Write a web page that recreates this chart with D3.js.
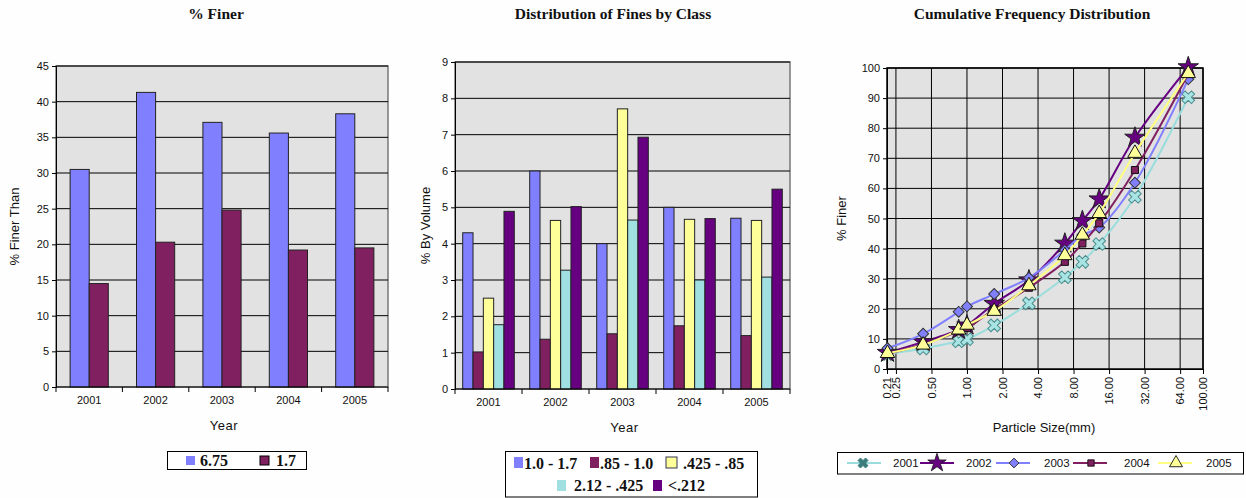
<!DOCTYPE html>
<html><head><meta charset="utf-8">
<script src="https://cdn.jsdelivr.net/npm/d3@7"></script>
<style>
html,body{margin:0;padding:0;background:#fefefe;}
svg{display:block;}
text{font-family:"Liberation Sans",Arial,sans-serif;fill:#111;}
.title{font-family:"Liberation Serif","Times New Roman",serif;font-weight:bold;font-size:15.5px;}
.leg{font-family:"Liberation Serif","Times New Roman",serif;font-weight:bold;font-size:16px;}
.tick text{font-size:11px;}
</style></head>
<body>
<svg id="c" width="1246" height="498"></svg>
<script>
// ---------- data ----------
const years = ["2001","2002","2003","2004","2005"];

const finerSeries = ["6.75","1.7"];
const finer675 = [30.5, 41.3, 37.1, 35.6, 38.3];
const finer17  = [14.5, 20.3, 24.8, 19.2, 19.5];
const finerTicks = [0,5,10,15,20,25,30,35,40,45];

const classNames = ["1.0 - 1.7", ".85 - 1.0", ".425 - .85", "2.12 - .425", "<.212"];
const cls_1_17      = [4.3, 6.0, 4.0, 5.0, 4.7];
const cls_085_1     = [1.02, 1.37, 1.52, 1.74, 1.47];
const cls_0425_085  = [2.5, 4.64, 7.71, 4.67, 4.64];
const cls_212_0425  = [1.77, 3.27, 4.65, 3.0, 3.08];
const cls_lt212     = [4.89, 5.02, 6.93, 4.69, 5.5];
const volumeTicks = [0,1,2,3,4,5,6,7,8,9];

const particleSizes = [0.212, 0.425, 0.85, 1.0, 1.7, 3.35, 6.75, 9.5, 13.2, 26.5, 75];
const cum2001 = [5.0, 6.8, 9.2, 9.9, 14.5, 21.8, 30.5, 35.6, 41.5, 57.2, 90.3];
const cum2002 = [5.4, 9.0, 13.0, 14.5, 21.7, 29.5, 41.7, 49.2, 56.4, 76.9, 100.3];
const cum2003 = [6.9, 11.7, 19.0, 20.8, 24.9, 30.3, 39.5, 44.5, 47.0, 61.9, 96.3];
const cum2004 = [5.0, 8.2, 12.5, 13.6, 19.8, 27.0, 35.6, 41.7, 48.4, 66.1, 98.0];
const cum2005 = [5.2, 8.0, 13.0, 14.6, 19.2, 27.7, 37.7, 44.5, 51.7, 71.7, 98.2];
const sizeTicks = [0.21, 0.25, 0.5, 1, 2, 4, 8, 16, 32, 64, 100];
const pctTicks = [0,10,20,30,40,50,60,70,80,90,100];

// ---------- styles ----------
const plotBg = "#e2e2e2";
const finerColors = ["#8080ff", "#802060"];
const classColors = ["#8080ff", "#802060", "#ffff99", "#a0e0e0", "#660080"];

const svg = d3.select("#c");

function barChart(o) {
  const g = svg.append("g");
  const x0 = d3.scaleBand().domain(years).range([o.x0, o.x1]).padding(0);
  const y = d3.scaleLinear().domain([0, o.ymax]).range([o.y1, o.y0]);
  const bw = x0.bandwidth();
  const gw = bw * o.groupFrac;
  const x1 = d3.scaleBand().domain(o.names).range([(bw - gw) / 2, (bw + gw) / 2]).padding(0);

  g.append("rect").attr("x", o.x0).attr("y", o.y0).attr("width", o.x1 - o.x0).attr("height", o.y1 - o.y0)
    .attr("fill", plotBg).attr("stroke", "#777").attr("stroke-width", 1.5);
  g.append("g").selectAll("line").data(o.ticks.filter(t => t > 0)).join("line")
    .attr("x1", o.x0).attr("x2", o.x1).attr("y1", d => y(d)).attr("y2", d => y(d))
    .attr("stroke", "#000").attr("stroke-width", 1);

  o.series.forEach((vals, si) => {
    g.append("g").selectAll("rect").data(vals).join("rect")
      .attr("x", (d, i) => x0(years[i]) + x1(o.names[si]))
      .attr("y", d => y(d))
      .attr("width", x1.bandwidth())
      .attr("height", d => y(0) - y(d))
      .attr("fill", o.colors[si]).attr("stroke", "#222").attr("stroke-width", 1);
  });

  const ya = g.append("g").attr("transform", `translate(${o.x0},0)`)
    .call(d3.axisLeft(y).tickValues(o.ticks).tickSize(4).tickPadding(3).tickFormat(d3.format("d")));
  ya.select(".domain").attr("stroke", "#000");
  ya.selectAll(".tick line").attr("stroke", "#000");
  const xa = g.append("g");
  xa.append("line").attr("x1", o.x0).attr("x2", o.x1).attr("y1", o.y1).attr("y2", o.y1).attr("stroke", "#000");
  const bounds = years.map(d => x0(d)).concat([o.x1]);
  xa.selectAll("line.t").data(bounds).join("line").attr("class", "t")
    .attr("x1", d => d).attr("x2", d => d).attr("y1", o.y1).attr("y2", o.y1 + 5).attr("stroke", "#000");
  xa.selectAll("text").data(years).join("text")
    .attr("x", d => x0(d) + bw / 2).attr("y", o.y1 + 17).attr("text-anchor", "middle")
    .style("font-size", "11px").text(d => d);

  g.append("text").attr("class", "title").attr("x", o.titleX).attr("y", 19).attr("text-anchor", "middle").text(o.title);
  g.append("text").attr("x", (o.x0 + o.x1) / 2 + 2).attr("y", o.y1 + 43).attr("text-anchor", "middle")
    .style("font-size", "13px").style("letter-spacing", "0.5px").text("Year");
  g.append("text").attr("transform", `translate(${o.ylabX},${(o.y0 + o.y1) / 2}) rotate(-90)`)
    .attr("text-anchor", "middle").style("font-size", "13px").text(o.ylabel);
  return g;
}

// ---- chart 1 ----
barChart({x0: 56, x1: 388, y0: 66, y1: 387, ymax: 45, ticks: finerTicks, names: finerSeries,
  series: [finer675, finer17], colors: finerColors, groupFrac: 0.575,
  title: "% Finer", titleX: 216, ylabel: "% Finer Than", ylabX: 19});

{
  const lg = svg.append("g");
  lg.append("rect").attr("x", 167.5).attr("y", 451.5).attr("width", 139).attr("height", 18)
    .attr("fill", "#fff").attr("stroke", "#000");
  const items = [{n: finerSeries[0], c: finerColors[0], x: 186, tx: 200}, {n: finerSeries[1], c: finerColors[1], x: 260, tx: 276}];
  items.forEach(it => {
    lg.append("rect").attr("x", it.x).attr("y", 456).attr("width", 9).attr("height", 9).attr("fill", it.c)
      .attr("stroke", it.c === finerColors[1] ? "#000" : "none");
    lg.append("text").attr("class", "leg").attr("x", it.tx).attr("y", 466).text(it.n);
  });
}

// ---- chart 2 ----
barChart({x0: 455, x1: 790, y0: 62, y1: 389, ymax: 9, ticks: volumeTicks, names: classNames,
  series: [cls_1_17, cls_085_1, cls_0425_085, cls_212_0425, cls_lt212], colors: classColors, groupFrac: 0.77,
  title: "Distribution of Fines by Class", titleX: 613, ylabel: "% By Volume", ylabX: 430});

{
  const lg = svg.append("g");
  lg.append("rect").attr("x", 505.5).attr("y", 451.5).attr("width", 252).attr("height", 45.5)
    .attr("fill", "#fff").attr("stroke", "#000");
  const items = [
    {i: 0, x: 514, y: 457, tx: 524, ty: 469},
    {i: 1, x: 590, y: 457, tx: 600, ty: 469},
    {i: 2, x: 666, y: 457, tx: 683, ty: 469},
    {i: 3, x: 557, y: 480, tx: 574, ty: 491},
    {i: 4, x: 653, y: 480, tx: 668, ty: 491}];
  items.forEach(it => {
    lg.append("rect").attr("x", it.x).attr("y", it.y).attr("width", it.i === 2 ? 11 : 9).attr("height", 11)
      .attr("fill", classColors[it.i]).attr("stroke", it.i === 2 ? "#335" : "none");
    lg.append("text").attr("class", "leg").attr("x", it.tx).attr("y", it.ty).text(classNames[it.i]);
  });
}

// ---- chart 3 ----
{
  const g = svg.append("g");
  const X0 = 887, X1 = 1203, Y0 = 68, Y1 = 369;
  const x = d3.scaleLog().domain([0.21, 100]).range([X0, X1]);
  const y = d3.scaleLinear().domain([0, 100]).range([Y1, Y0]);
  g.append("rect").attr("x", X0).attr("y", Y0).attr("width", X1 - X0).attr("height", Y1 - Y0)
    .attr("fill", plotBg).attr("stroke", "#000").attr("stroke-width", 1.5);
  g.append("g").selectAll("line").data(pctTicks.filter(t => t > 0)).join("line")
    .attr("x1", X0).attr("x2", X1).attr("y1", d => y(d)).attr("y2", d => y(d)).attr("stroke", "#000");
  g.append("g").selectAll("line").data(sizeTicks.slice(1)).join("line")
    .attr("x1", d => x(d)).attr("x2", d => x(d)).attr("y1", Y0).attr("y2", Y1).attr("stroke", "#000");

  const ya = g.append("g").attr("transform", `translate(${X0},0)`)
    .call(d3.axisLeft(y).tickValues(pctTicks).tickSize(4).tickPadding(3).tickFormat(d3.format("d")));
  ya.selectAll(".tick line").attr("stroke", "#000");
  ya.select(".domain").attr("stroke", "#000");
  const xa = g.append("g").attr("transform", `translate(0,${Y1})`)
    .call(d3.axisBottom(x).tickValues(sizeTicks).tickSize(5).tickFormat(d => d.toFixed(2)));
  xa.select(".domain").attr("stroke", "#000");
  xa.selectAll(".tick line").attr("stroke", "#000");
  xa.selectAll(".tick text").attr("transform", "rotate(-90)").attr("text-anchor", "end")
    .attr("x", -8).attr("y", 0).attr("dy", "0.35em");

  const series = [
    {name: "2001", v: cum2001, line: "#99dddd", fill: "#a8e4e4", stroke: "#4b8c8c", sym: "x"},
    {name: "2002", v: cum2002, line: "#660080", fill: "#660080", stroke: "#222", sym: "star"},
    {name: "2003", v: cum2003, line: "#8080ff", fill: "#8080ff", stroke: "#333", sym: "diamond"},
    {name: "2004", v: cum2004, line: "#802060", fill: "#802060", stroke: "#111", sym: "square"},
    {name: "2005", v: cum2005, line: "#ffff80", fill: "#ffff99", stroke: "#111", sym: "triangle"}];
  function symPath(s) {
    if (s === "x") return {p: d3.symbol(d3.symbolCross, 100)(), r: 45};
    if (s === "star") return {p: d3.symbol(d3.symbolStar, 130)(), r: 0};
    if (s === "diamond") return {p: d3.symbol(d3.symbolSquare, 60)(), r: 45};
    if (s === "square") return {p: d3.symbol(d3.symbolSquare, 50)(), r: 0};
    return {p: d3.symbol(d3.symbolTriangle, 90)(), r: 0};
  }
  const line = d3.line().x((d, i) => x(particleSizes[i])).y(d => y(d)).curve(d3.curveCatmullRom.alpha(0.5));
  series.forEach(s => {
    g.append("path").attr("d", line(s.v)).attr("fill", "none").attr("stroke", s.line).attr("stroke-width", 2);
    const sp = symPath(s.sym);
    g.append("g").selectAll("path").data(s.v).join("path")
      .attr("d", sp.p)
      .attr("transform", (d, i) => `translate(${x(particleSizes[i])},${y(d)}) rotate(${sp.r})`)
      .attr("fill", s.fill).attr("stroke", s.stroke).attr("stroke-width", 1);
  });

  g.append("text").attr("class", "title").attr("x", 1032).attr("y", 19).attr("text-anchor", "middle").text("Cumulative Frequency Distribution");
  g.append("text").attr("x", 1044).attr("y", 432).attr("text-anchor", "middle").style("font-size", "13px").text("Particle Size(mm)");
  g.append("text").attr("transform", `translate(846,${(Y0 + Y1) / 2}) rotate(-90)`).attr("text-anchor", "middle")
    .style("font-size", "13px").text("% Finer");

  const lg = svg.append("g");
  lg.append("rect").attr("x", 837.5).attr("y", 452.5).attr("width", 406).attr("height", 21.5).attr("fill", "#fff").attr("stroke", "#000");
  const pos = [{l: 847, m: 863, t: 893}, {l: 920, m: 937, t: 966}, {l: 996, m: 1014, t: 1044}, {l: 1073, m: 1091, t: 1124}, {l: 1158, m: 1176, t: 1206}];
  series.forEach((s, i) => {
    const p = pos[i];
    lg.append("line").attr("x1", p.l).attr("x2", p.l + 34).attr("y1", 463).attr("y2", 463).attr("stroke", s.line).attr("stroke-width", 2);
    const sp = symPath(s.sym);
    lg.append("path").attr("d", sp.p)
      .attr("fill", s.sym === "x" ? "#3d7c7c" : s.fill).attr("stroke", s.sym === "x" ? "#3d7c7c" : s.stroke)
      .attr("transform", `translate(${p.m},463) rotate(${sp.r}) scale(${s.sym === "x" ? 0.8 : 0.9})`);
    lg.append("text").attr("x", p.t).attr("y", 467).style("font-size", "11.5px").text(s.name);
  });
}
</script>
</body></html>
